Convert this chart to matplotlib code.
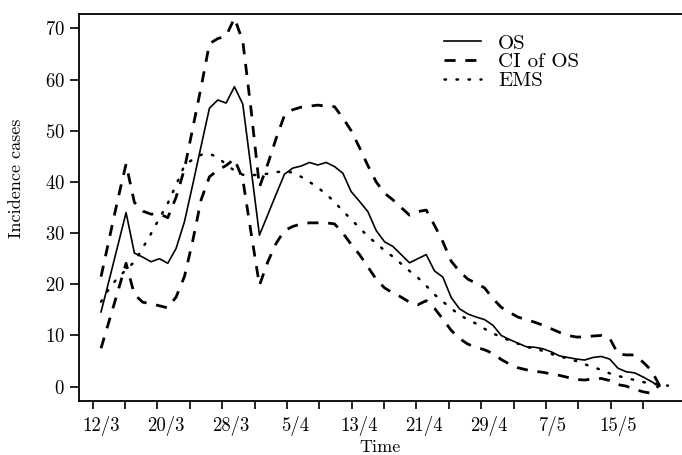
import matplotlib
matplotlib.use("Agg")
import matplotlib.pyplot as plt
import numpy as np

plt.rcParams["font.family"] = "serif"
plt.rcParams["font.serif"] = ["cmr10", "DejaVu Serif"]
plt.rcParams["axes.formatter.use_mathtext"] = True

# daily incidence, 12/3 .. 18/5
os_cases = [
    14.6, 21.0, 27.5, 34.0, 26.1, 25.3, 24.4, 25.0, 24.1, 27.0,
    32.2, 39.5, 47.0, 54.4, 56.0, 55.4, 58.6, 55.2, 42.5, 29.6,
    33.6, 37.6, 41.5, 42.7, 43.1, 43.8, 43.3, 43.8, 43.0, 41.7,
    38.1, 36.2, 34.2, 30.5, 28.3, 27.4, 25.8, 24.2, 25.0, 25.8,
    22.6, 21.4, 17.4, 15.2, 14.2, 13.6, 13.1, 12.0, 10.0, 9.2,
    8.5, 7.8, 7.7, 7.4, 6.8, 6.0, 5.7, 5.4, 5.2, 5.7,
    5.9, 5.4, 3.6, 2.9, 2.7, 1.9, 1.0, 0.1,
]
ci_upper = [
    21.5, 29.0, 36.5, 43.5, 36.0, 34.3, 33.7, 33.8, 33.0, 37.0,
    42.5, 50.5, 58.5, 67.0, 68.0, 68.5, 72.0, 67.5, 54.0, 39.0,
    43.5, 48.5, 53.0, 54.1, 54.6, 54.8, 55.0, 54.8, 54.7, 52.5,
    50.0, 46.7, 43.2, 40.0, 37.8, 36.5, 35.0, 33.5, 34.2, 34.5,
    31.5, 28.3, 24.5, 22.5, 21.0, 20.2, 19.3, 17.2, 15.5, 14.5,
    13.6, 13.1, 12.6, 12.0, 11.3, 10.6, 10.0, 9.7, 9.7, 9.9,
    10.0, 9.5, 6.4, 6.2, 6.2, 4.8, 3.2, 0.2,
]
ci_lower = [
    7.5, 13.0, 18.5, 24.1, 18.0, 16.5, 16.2, 15.8, 15.4, 17.5,
    21.5, 28.5, 36.5, 41.0, 42.3, 43.2, 44.5, 40.5, 30.0, 19.8,
    24.4, 28.0, 30.5, 31.3, 31.8, 32.0, 32.0, 32.0, 31.8, 30.0,
    27.8, 25.8, 23.4, 21.0, 19.3, 18.3, 17.5, 16.5, 16.0, 16.8,
    15.3, 13.2, 11.0, 9.4, 8.3, 7.7, 7.2, 6.5, 5.3, 4.4,
    3.7, 3.3, 3.0, 2.8, 2.5, 2.2, 1.8, 1.4, 1.3, 1.5,
    1.6, 1.2, 0.4, 0.1, -0.5, -1.0, -1.3, 0.4,
]
ems = [
    16.6, 19.2, 21.3, 22.8, 24.4, 27.1, 29.9, 32.9, 35.8, 39.4,
    43.2, 44.4, 45.3, 45.5, 44.8, 43.4, 42.2, 41.4, 41.3, 41.4,
    41.6, 41.9, 42.1, 41.8, 41.0, 40.0, 38.9, 37.6, 36.1, 34.3,
    32.7, 31.0, 29.4, 28.0, 26.6, 25.4, 24.0, 22.6, 21.3, 19.7,
    18.0, 16.6, 15.3, 14.0, 13.1, 12.3, 11.3, 10.4, 9.7, 9.0,
    8.4, 7.8, 7.4, 7.0, 6.4, 5.9, 5.5, 5.0, 4.4, 3.8,
    3.3, 2.6, 2.1, 1.7, 1.3, 0.9, 0.6, 0.4, 0.2,
]
date_labels = ["12/3", "20/3", "28/3", "5/4", "13/4", "21/4", "29/4", "7/5", "15/5"]

fig = plt.figure(figsize=(6.82, 4.55), dpi=100)
ax = fig.add_axes([78.7 / 682, 1 - 401 / 455, 1 - 78.7 / 682, (401 - 14) / 455])

ax.plot(np.arange(len(os_cases)), os_cases, color="black", lw=1.2, label="OS")
ax.plot(np.arange(len(ci_upper)), ci_upper, color="black", lw=2.0,
        linestyle=(0, (4, 3.5)), label="CI of OS")
ax.plot(np.arange(len(ci_lower)), ci_lower, color="black", lw=2.0,
        linestyle=(0, (4, 3.5)))
ax.plot(np.arange(len(ems)), ems, color="black", lw=1.8,
        linestyle=(0, (0.6, 4.2)), dash_capstyle="round", label="EMS")

ax.set_xlim(-2.68, 69.68)
ax.set_ylim(-2.8, 72.8)
ax.spines["right"].set_visible(False)
for s in ["left", "bottom", "top"]:
    ax.spines[s].set_linewidth(1.3)

# tick marks every 4 days, labels every 8
ax.set_xticks(np.linspace(-1, 65, 18))
ax.set_xticklabels([])
ax.set_xticks(np.linspace(0, 62, 9), minor=True)
ax.set_xticklabels(date_labels, minor=True)
ax.tick_params(axis="x", which="major", length=6, width=1.2)
ax.tick_params(axis="x", which="minor", length=0, pad=11, labelsize=13.5)
ax.set_yticks(np.arange(0, 71, 10))
ax.tick_params(axis="y", length=6.5, width=1.2, pad=3.5, labelsize=13.5)

ax.set_xlabel("Time", fontsize=13, labelpad=2.5)
ax.set_ylabel("Incidence cases", fontsize=13, labelpad=11)
ax.yaxis.set_label_coords(-0.09, 0.575)

ax.legend(loc="upper left", bbox_to_anchor=(0.588, 0.975), frameon=False,
          fontsize=15, handlelength=1.8, handletextpad=0.8, labelspacing=0.0,
          borderpad=0)

fig.savefig("out.png", dpi=100)
